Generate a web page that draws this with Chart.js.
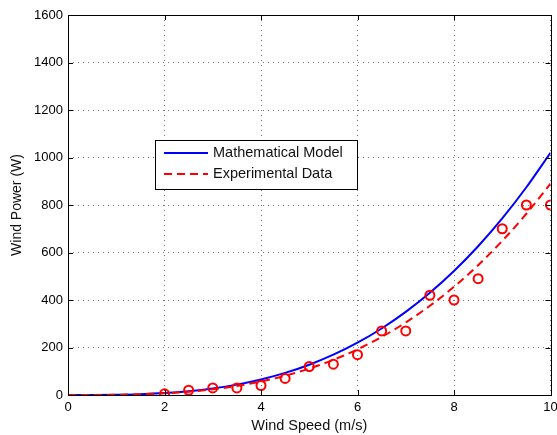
<!DOCTYPE html>
<html>
<head>
<meta charset="utf-8">
<script src="https://cdn.jsdelivr.net/npm/chart.js@4/dist/chart.umd.min.js"></script>
<style>
  html, body { margin: 0; padding: 0; background: #fff; }
  #wrap { width: 557px; height: 435px; }
</style>
</head>
<body>
<div id="wrap"><canvas id="chart" width="557" height="435"></canvas></div>
<script>
// wind speed samples for the two curves (m/s)
const curveSpeeds = [0, 0.5, 1, 1.5, 2, 2.5, 3, 3.5, 4, 4.5, 5, 5.5, 6, 6.5, 7, 7.5, 8, 8.5, 9, 9.5, 10];
const modelPower = [0, 0.1, 1, 3.4, 8.2, 15.9, 27.5, 43.7, 65.3, 93, 127.5, 169.7, 220.3, 280.1, 349.9, 430.3, 522.2, 626.4, 743.6, 874.6, 1020];
const fitPower = [0, 0.1, 0.9, 3, 7.1, 13.9, 24, 38.2, 57, 81.1, 111.3, 148.1, 192.2, 244.4, 305.3, 375.5, 455.7, 546.6, 648.8, 763.1, 890];

// measured points
const measSpeeds = [2, 2.5, 3, 3.5, 4, 4.5, 5, 5.5, 6, 6.5, 7, 7.5, 8, 8.5, 9, 9.5, 10];
const measPower = [5, 20, 30, 30, 40, 70, 120, 130, 170, 270, 270, 420, 400, 490, 700, 800, 800];

const xTicks = [0, 2, 4, 6, 8, 10];
const yTicks = [0, 200, 400, 600, 800, 1000, 1200, 1400, 1600];

const FONT = "Liberation Sans, Arial, Helvetica, sans-serif";

function pts(xs, ys) {
  return xs.map((x, i) => ({ x, y: ys[i] }));
}

// box, inward ticks and the in-plot legend, MATLAB style
const axesBox = {
  id: "axesBox",
  afterDatasetsDraw(chart) {
    const { ctx, chartArea: a, scales } = chart;
    ctx.save();
    ctx.strokeStyle = "#000";
    ctx.lineWidth = 1;
    ctx.beginPath();
    xTicks.forEach(t => {
      const px = Math.round(scales.x.getPixelForValue(t)) + 0.5;
      ctx.moveTo(px, a.bottom); ctx.lineTo(px, a.bottom - 5);
      ctx.moveTo(px, a.top); ctx.lineTo(px, a.top + 5);
    });
    yTicks.forEach(t => {
      const py = Math.round(scales.y.getPixelForValue(t)) + 0.5;
      ctx.moveTo(a.left, py); ctx.lineTo(a.left + 5, py);
      ctx.moveTo(a.right, py); ctx.lineTo(a.right - 5, py);
    });
    ctx.stroke();
    ctx.strokeRect(Math.round(a.left) + 0.5, Math.round(a.top) + 0.5,
      Math.round(a.right - a.left), Math.round(a.bottom - a.top));

    // legend
    const lx = 155.5, ly = 140.5, lw = 202, lh = 49;
    ctx.fillStyle = "#fff";
    ctx.fillRect(lx, ly, lw, lh);
    ctx.strokeRect(lx, ly, lw, lh);
    ctx.lineWidth = 2;
    ctx.strokeStyle = "#0000ff";
    ctx.beginPath(); ctx.moveTo(164, 153); ctx.lineTo(208, 153); ctx.stroke();
    ctx.strokeStyle = "#ff0000";
    ctx.setLineDash([8, 5]);
    ctx.beginPath(); ctx.moveTo(164, 174); ctx.lineTo(208, 174); ctx.stroke();
    ctx.setLineDash([]);
    ctx.fillStyle = "#111";
    ctx.font = "14.5px " + FONT;
    ctx.textBaseline = "middle";
    ctx.fillText("Mathematical Model", 213, 153);
    ctx.fillText("Experimental Data", 213, 174);
    ctx.restore();
  }
};

new Chart(document.getElementById("chart"), {
  type: "line",
  data: {
    datasets: [
      {
        label: "Mathematical Model",
        data: pts(curveSpeeds, modelPower),
        borderColor: "#0000ff",
        borderWidth: 2,
        pointRadius: 0,
        cubicInterpolationMode: "monotone",
        order: 2
      },
      {
        label: "Experimental Data",
        data: pts(curveSpeeds, fitPower),
        borderColor: "#ff0000",
        borderWidth: 2,
        borderDash: [8, 5],
        pointRadius: 0,
        cubicInterpolationMode: "monotone",
        order: 1
      },
      {
        label: "Measured",
        data: pts(measSpeeds, measPower),
        showLine: false,
        pointStyle: "circle",
        pointRadius: 4.5,
        pointBorderWidth: 2,
        pointBorderColor: "#ff0000",
        pointBackgroundColor: "rgba(0,0,0,0)",
        order: 0
      }
    ]
  },
  options: {
    responsive: false,
    animation: false,
    layout: { padding: { top: 15, right: 6, left: 0, bottom: 0 } },
    plugins: {
      legend: { display: false },
      tooltip: { enabled: false }
    },
    scales: {
      x: {
        type: "linear",
        min: 0,
        max: 10,
        afterBuildTicks: s => { s.ticks = xTicks.map(v => ({ value: v })); },
        afterFit: s => { s.height = 40; s.paddingLeft = 0; s.paddingRight = 0; },
        grid: { color: "#777", drawTicks: false, lineWidth: 1 },
        border: { display: false, dash: [1, 4] },
        ticks: { color: "#000", font: { family: FONT, size: 13 }, padding: 5, maxRotation: 0, callback: v => String(v) },
        title: { display: true, text: "Wind Speed (m/s)", color: "#111", font: { family: FONT, size: 14.5 }, padding: { top: 0, bottom: 0 } }
      },
      y: {
        min: 0,
        max: 1600,
        afterBuildTicks: s => { s.ticks = yTicks.map(v => ({ value: v })); },
        afterFit: s => { s.width = 68; },
        grid: { color: "#777", drawTicks: false, lineWidth: 1 },
        border: { display: false, dash: [1, 4] },
        ticks: { color: "#000", font: { family: FONT, size: 13 }, padding: 5, callback: v => String(v) },
        title: { display: true, text: "Wind Power (W)", color: "#111", font: { family: FONT, size: 14 }, padding: { top: 9, bottom: 0 } }
      }
    }
  },
  plugins: [axesBox]
});
</script>
</body>
</html>
